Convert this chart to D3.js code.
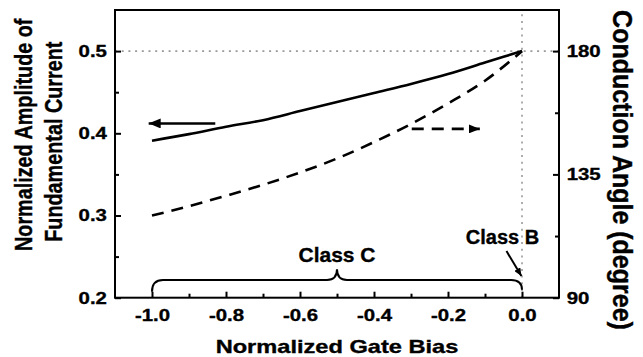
<!DOCTYPE html>
<html>
<head>
<meta charset="utf-8">
<script src="https://cdn.jsdelivr.net/npm/d3@7"></script>
<style>
  body { margin: 0; background: #fff; }
  svg text { font-family: 'Liberation Sans', Arial, sans-serif; font-weight: bold; fill: #000; stroke: #000; stroke-width: 0.35px; }
</style>
</head>
<body>
<svg id="chart"></svg>
<script>
// values
const gateBias = [-1.0, -0.9, -0.8, -0.7, -0.6, -0.5, -0.4, -0.3, -0.2, -0.1, 0.0];
const amplitude = [0.391, 0.399, 0.408, 0.416, 0.427, 0.438, 0.449, 0.46, 0.472, 0.486, 0.5];
const conductionAngle = [120.0, 123.4, 127.2, 131.2, 135.7, 140.8, 146.8, 153.4, 160.9, 169.2, 180.0];

const xTicks = [-1.0, -0.8, -0.6, -0.4, -0.2, 0.0];
const xMinor = [-0.9, -0.7, -0.5, -0.3, -0.1];
const yTicks = [0.2, 0.3, 0.4, 0.5];
const yMinor = [0.25, 0.35, 0.45];
const angleTicks = [90, 135, 180];
const angleMinor = [112.5, 157.5];

const width = 643;
const height = 357;
const margin = { top: 10, right: 84, bottom: 59.3, left: 115 };

const svg = d3.select('#chart').attr('width', width).attr('height', height);

const x = d3
  .scaleLinear()
  .domain([-1.1, 0.1])
  .range([margin.left, width - margin.right]);

const y = d3
  .scaleLinear()
  .domain([0.2, 0.55])
  .range([height - margin.bottom, margin.top]);

const yR = d3
  .scaleLinear()
  .domain([90, 195])
  .range([height - margin.bottom, margin.top]);

const data = gateBias.map((g, i) => ({ g, amp: amplitude[i], angle: conductionAngle[i] }));

const defs = svg.append('defs');
const head = (id, w, h) =>
  defs
    .append('marker')
    .attr('id', id)
    .attr('viewBox', `0 0 ${w} ${h}`)
    .attr('refX', w)
    .attr('refY', h / 2)
    .attr('markerWidth', w)
    .attr('markerHeight', h)
    .attr('markerUnits', 'userSpaceOnUse')
    .attr('orient', 'auto')
    .append('path')
    .attr('d', `M0,0L${w},${h / 2}L0,${h}Z`)
    .attr('fill', '#000');
head('headBig', 12, 10);
head('headMid', 11, 9);
head('headSmall', 8, 7);

//dotted guides at class B
svg
  .append('line')
  .attr('x1', x.range()[0])
  .attr('x2', x.range()[1])
  .attr('y1', y(0.5))
  .attr('y2', y(0.5))
  .attr('stroke', '#999')
  .attr('stroke-width', 1.6)
  .attr('stroke-dasharray', '2,4.7');
svg
  .append('line')
  .attr('x1', x(0))
  .attr('x2', x(0))
  .attr('y1', y.range()[0])
  .attr('y2', y.range()[1])
  .attr('stroke', '#999')
  .attr('stroke-width', 1.6)
  .attr('stroke-dasharray', '2,4.7');

// axes, ticks pointing inward
const stretch = (g, sx) => g.selectAll('text').attr('transform', `scale(${sx},1)`);

const styleAxis = (g) =>
  g
    .call((g) => g.select('.domain').remove())
    .call((g) => g.selectAll('line').attr('stroke', '#000').attr('stroke-width', 2))
    .call((g) => g.selectAll('text').attr('font-size', 17));

svg
  .append('g')
  .attr('transform', `translate(0,${y.range()[0]})`)
  .call(d3.axisBottom(x).tickValues(xTicks).tickSizeInner(-6).tickSizeOuter(0).tickPadding(11.6).tickFormat((d) => d.toFixed(1)))
  .call(styleAxis)
  .call((g) => stretch(g, 1.2));
svg
  .append('g')
  .attr('transform', `translate(0,${y.range()[0]})`)
  .call(d3.axisBottom(x).tickValues(xMinor).tickSizeInner(-4).tickSizeOuter(0).tickFormat(''))
  .call(styleAxis);

svg
  .append('g')
  .attr('transform', `translate(${x.range()[0]},0)`)
  .call(d3.axisLeft(y).tickValues(yTicks).tickSizeInner(-6).tickSizeOuter(0).tickPadding(6.7).tickFormat((d) => d.toFixed(1)))
  .call(styleAxis)
  .call((g) => stretch(g, 1.2));
svg
  .append('g')
  .attr('transform', `translate(${x.range()[0]},0)`)
  .call(d3.axisLeft(y).tickValues(yMinor).tickSizeInner(-4).tickSizeOuter(0).tickFormat(''))
  .call(styleAxis);

svg
  .append('g')
  .attr('transform', `translate(${x.range()[1]},0)`)
  .call(d3.axisRight(yR).tickValues(angleTicks).tickSizeInner(-6).tickSizeOuter(0).tickPadding(6.4))
  .call(styleAxis)
  .call((g) => stretch(g, 1.2));
svg
  .append('g')
  .attr('transform', `translate(${x.range()[1]},0)`)
  .call(d3.axisRight(yR).tickValues(angleMinor).tickSizeInner(-4).tickSizeOuter(0).tickFormat(''))
  .call(styleAxis);

//frame
svg
  .append('rect')
  .attr('x', x.range()[0])
  .attr('y', y.range()[1])
  .attr('width', x.range()[1] - x.range()[0])
  .attr('height', y.range()[0] - y.range()[1])
  .attr('fill', 'none')
  .attr('stroke', '#000')
  .attr('stroke-width', 2);

// curves
svg
  .append('path')
  .datum(data)
  .attr('fill', 'none')
  .attr('stroke', '#000')
  .attr('stroke-width', 2.6)
  .attr('d', d3.line().curve(d3.curveMonotoneX).x((d) => x(d.g)).y((d) => y(d.amp)));

svg
  .append('path')
  .datum(data)
  .attr('fill', 'none')
  .attr('stroke', '#000')
  .attr('stroke-width', 2.6)
  .attr('stroke-dasharray', '12,8')
  .attr('d', d3.line().curve(d3.curveMonotoneX).x((d) => x(d.g)).y((d) => yR(d.angle)));

// series arrows
svg
  .append('line')
  .attr('x1', x(-0.829))
  .attr('x2', x(-1.009))
  .attr('y1', y(0.412))
  .attr('y2', y(0.412))
  .attr('stroke', '#000')
  .attr('stroke-width', 2.6)
  .attr('marker-end', 'url(#headBig)');

svg
  .append('line')
  .attr('x1', x(-0.298))
  .attr('x2', x(-0.114))
  .attr('y1', yR(151.6))
  .attr('y2', yR(151.6))
  .attr('stroke', '#000')
  .attr('stroke-width', 2.6)
  .attr('stroke-dasharray', '12,8')
  .attr('marker-end', 'url(#headMid)');

// class C brace
const xl = x(-1.0), xm = x(-0.5), xr = x(0.0);
const yb = y(0.2073), yl = y(0.2215), yt = y(0.2345);
const r = 11;
svg
  .append('path')
  .attr('fill', 'none')
  .attr('stroke', '#000')
  .attr('stroke-width', 2)
  .attr(
    'd',
    `M${xl},${yb}Q${xl},${yl} ${xl + r},${yl}L${xm - 10},${yl}Q${xm},${yl} ${xm},${yt}` +
      `Q${xm},${yl} ${xm + 10},${yl}L${xr - r},${yl}Q${xr},${yl} ${xr},${yb - 2}`
  );

svg
  .append('line')
  .attr('x1', x(-0.042))
  .attr('y1', y(0.2567))
  .attr('x2', x(-0.0016))
  .attr('y2', y(0.2263))
  .attr('stroke', '#000')
  .attr('stroke-width', 2)
  .attr('marker-end', 'url(#headSmall)');

// labels
svg
  .append('text')
  .attr('x', x(-0.5))
  .attr('y', 262)
  .attr('text-anchor', 'middle')
  .attr('font-size', 21)
  .text('Class C');

svg
  .append('text')
  .attr('x', 502.5)
  .attr('y', 244)
  .attr('text-anchor', 'middle')
  .attr('font-size', 20)
  .text('Class B');

svg
  .append('text')
  .attr('transform', `translate(${(x.range()[0] + x.range()[1]) / 2},352.5) scale(1.27,1)`)
  .attr('text-anchor', 'middle')
  .attr('font-size', 18.6)
  .text('Normalized Gate Bias');

svg
  .append('text')
  .attr('transform', 'translate(32.3,134.8) rotate(-90) scale(1,1.24)')
  .attr('text-anchor', 'middle')
  .attr('font-size', 19.8)
  .text('Normalized Amplitude of');

svg
  .append('text')
  .attr('transform', 'translate(61.7,141.7) rotate(-90) scale(1,1.24)')
  .attr('text-anchor', 'middle')
  .attr('font-size', 19.8)
  .text('Fundamental Current');

svg
  .append('text')
  .attr('transform', 'translate(613,170) rotate(90) scale(1,1.12)')
  .attr('text-anchor', 'middle')
  .attr('font-size', 25)
  .text('Conduction Angle (degree)');
</script>
</body>
</html>
